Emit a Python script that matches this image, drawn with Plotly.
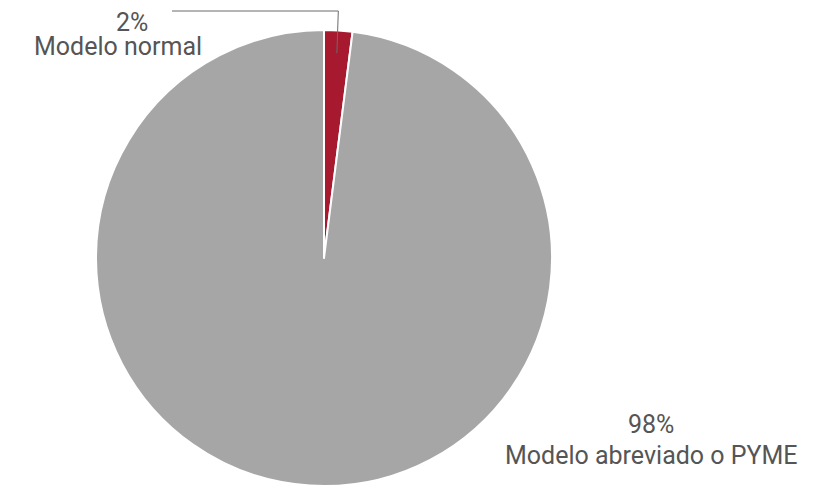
import math
import plotly.graph_objects as go

labels = ["Modelo normal", "Modelo abreviado o PYME"]
values = [2, 98]
colors = ["#a6192e", "#a6a6a6"]

W, H = 817, 486
cx, cy, R = 324, 258, 228  # pie centre and radius in pixels

dom_x = [(cx - R) / W, (cx + R) / W]
dom_y = [(H - cy - R) / H, (H - cy + R) / H]

fig = go.Figure(go.Pie(
    labels=labels,
    values=values,
    marker=dict(colors=colors, line=dict(color="white", width=2)),
    sort=False,
    direction="clockwise",
    rotation=0,
    textinfo="none",
    hoverinfo="label+percent",
    domain=dict(x=dom_x, y=dom_y),
    showlegend=False,
))

total = sum(values)
pct = [f"{round(v / total * 100)}%" for v in values]

def px(x):
    return x / W

def py(y):
    return 1 - y / H

# leader line for the small slice, from the slice midpoint angle
mid = values[0] / total * math.pi
lx = cx + R * 0.9 * math.sin(mid)
ly = cy - R * 0.9 * math.cos(mid)
lx2 = cx + R * 1.0 * math.sin(mid)
line_col = "#6b6b6b"
fig.add_shape(type="path", xref="paper", yref="paper",
              path=f"M {px(lx)} {py(ly)} L {px(lx2)} {py(11)} L {px(172)} {py(11)}",
              line=dict(color=line_col, width=1))

font = dict(family="Roboto, Arial, sans-serif", size=25, color="#555555")
ann = [
    dict(x=px(132), y=py(22), text=pct[0]),
    dict(x=px(118), y=py(46), text=labels[0]),
    dict(x=px(651), y=py(424), text=pct[1]),
    dict(x=px(651), y=py(455), text=labels[1]),
]
for a in ann:
    fig.add_annotation(xref="paper", yref="paper", xanchor="center", yanchor="middle",
                       showarrow=False, font=font, **a)

fig.update_layout(
    width=W, height=H,
    margin=dict(l=0, r=0, t=0, b=0),
    paper_bgcolor="white",
    plot_bgcolor="white",
)

fig.write_html("out.html")
